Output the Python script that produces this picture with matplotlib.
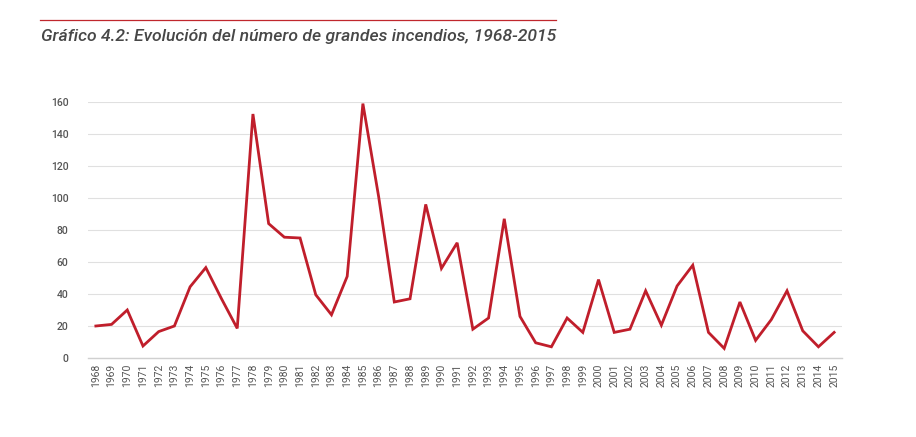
import matplotlib
matplotlib.use("Agg")
import matplotlib.pyplot as plt
from matplotlib.lines import Line2D

years = list(range(1968, 2016))
values = [20, 21, 30, 7.5, 16.5, 20, 44.5, 56.5, 37, 18.5,
          152.5, 84, 75.5, 75, 39.5, 27, 51, 159, 101, 35,
          37, 96, 56, 72, 18, 25, 87, 26, 9.5, 7,
          25, 16, 49, 16, 18, 42, 20.5, 45, 58, 16,
          6, 35, 11, 24, 42, 17, 7, 16]
yticks = [0, 20, 40, 60, 80, 100, 120, 140, 160]
title = "Gráfico 4.2: Evolución del número de grandes incendios, 1968-2015"

plt.rcParams['font.family'] = ['Roboto', 'DejaVu Sans']

fig = plt.figure(figsize=(9.16, 4.37), dpi=100)
ax = fig.add_axes([88/916, 1 - 358/437, (842 - 88)/916, (358 - 102)/437])

x = list(range(len(years)))
ax.plot(x, values, color='#c01e2b', linewidth=2.0, solid_joinstyle='miter', zorder=3)

ax.set_xlim(-0.5, len(years) - 0.5)
ax.set_ylim(0, 160)
ax.set_yticks(yticks)
ax.set_yticklabels([str(v) for v in yticks], fontsize=7.5, color='#555555', fontweight='medium')
ax.set_xticks(x)
ax.set_xticklabels([str(y) for y in years], rotation=90, fontsize=7.5, color='#555555')
ax.tick_params(axis='both', length=0)
ax.tick_params(axis='y', pad=14)
ax.tick_params(axis='x', pad=4)

ax.grid(axis='y', color='#e0e0e0', linewidth=0.8, zorder=0)
ax.set_axisbelow(True)
for s in ['top', 'right', 'left']:
    ax.spines[s].set_visible(False)
ax.spines['bottom'].set_color('#d0d0d0')
ax.spines['bottom'].set_linewidth(1.0)

fig.add_artist(Line2D([40/916, 556/916], [1 - 19.5/437, 1 - 19.5/437],
                      color='#c0272d', linewidth=0.9, transform=fig.transFigure))
fig.text(41/916, 1 - 37/437, title, fontsize=12.6, style='italic', color='#474747',
         fontweight='medium', va='center', ha='left')

fig.savefig('out.png', dpi=100)
